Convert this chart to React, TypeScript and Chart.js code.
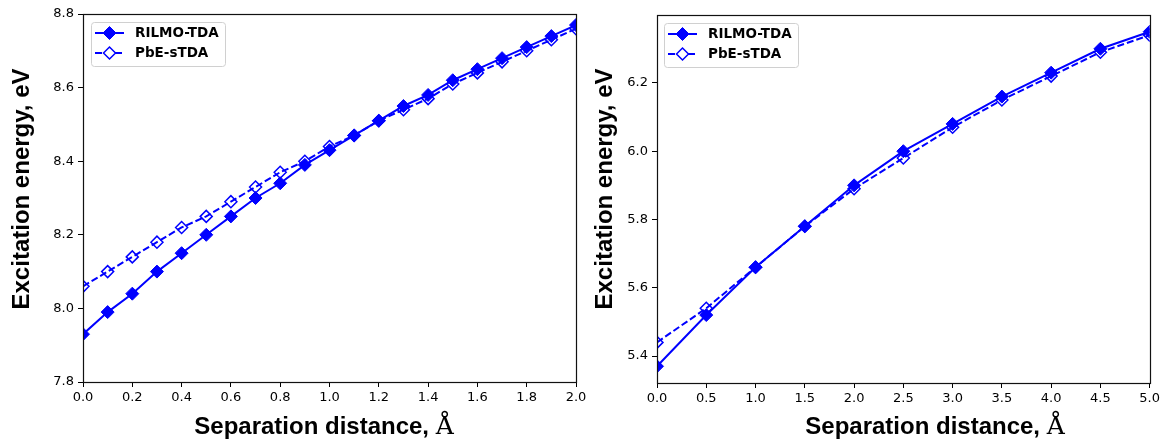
import React, { useEffect, useRef } from 'react';
import { Chart, registerables } from 'chart.js';
Chart.register(...registerables);

const seriesNames = ['RILMO-TDA', 'PbE-sTDA'];
const xTitleText = 'Separation distance, ';
const xTitleUnit = 'Å';
const yTitleText = 'Excitation energy, eV';

const leftDistances = [0.0, 0.1, 0.2, 0.3, 0.4, 0.5, 0.6, 0.7, 0.8, 0.9, 1.0, 1.1, 1.2, 1.3, 1.4, 1.5, 1.6, 1.7, 1.8, 1.9, 2.0];
const leftRilmo = [7.93, 7.99, 8.04, 8.10, 8.15, 8.20, 8.25, 8.30, 8.34, 8.39, 8.43, 8.47, 8.51, 8.55, 8.58, 8.62, 8.65, 8.68, 8.71, 8.74, 8.77];
const leftPbe = [8.06, 8.10, 8.14, 8.18, 8.22, 8.25, 8.29, 8.33, 8.37, 8.40, 8.44, 8.47, 8.51, 8.54, 8.57, 8.61, 8.64, 8.67, 8.70, 8.73, 8.76];
const leftXTicks = [0.0, 0.2, 0.4, 0.6, 0.8, 1.0, 1.2, 1.4, 1.6, 1.8, 2.0];
const leftYTicks = [7.8, 8.0, 8.2, 8.4, 8.6, 8.8];

const rightDistances = [0.0, 0.5, 1.0, 1.5, 2.0, 2.5, 3.0, 3.5, 4.0, 4.5, 5.0];
const rightRilmo = [5.37, 5.52, 5.66, 5.78, 5.90, 6.00, 6.08, 6.16, 6.23, 6.30, 6.35];
const rightPbe = [5.44, 5.54, 5.66, 5.78, 5.89, 5.98, 6.07, 6.15, 6.22, 6.29, 6.34];
const rightXTicks = [0.0, 0.5, 1.0, 1.5, 2.0, 2.5, 3.0, 3.5, 4.0, 4.5, 5.0];
const rightYTicks = [5.4, 5.6, 5.8, 6.0, 6.2];

const BLUE = '#0000ff';

function diamond(ctx: CanvasRenderingContext2D, x: number, y: number, r: number) {
  ctx.beginPath();
  ctx.moveTo(x - r, y);
  ctx.lineTo(x, y - r);
  ctx.lineTo(x + r, y);
  ctx.lineTo(x, y + r);
  ctx.closePath();
}

type PanelProps = {
  left: number;
  width: number;
  xs: number[];
  a: number[];
  b: number[];
  xMin: number;
  xMax: number;
  yMin: number;
  yMax: number;
  xTicks: number[];
  yTicks: number[];
  yAxisWidth: number;
  padTop: number;
  padRight: number;
  xAxisHeight: number;
  legendDx: number;
  legendDy: number;
  yTitleX: number;
  yTitleY: number;
  xTitleCenter: number;
  xTitleBaseline: number;
};

function Panel(p: PanelProps) {
  const ref = useRef<HTMLCanvasElement>(null);
  useEffect(() => {
    const canvas = ref.current!;
    const overlay = {
      id: 'overlay',
      afterDraw(chart: any) {
        const ctx: CanvasRenderingContext2D = chart.ctx;
        const ca = chart.chartArea;
        ctx.save();
        // frame
        ctx.strokeStyle = '#111';
        ctx.lineWidth = 1.2;
        ctx.strokeRect(Math.round(ca.left) + 0.5, Math.round(ca.top) + 0.5, Math.round(ca.right - ca.left), Math.round(ca.bottom - ca.top));
        // legend
        const bx = ca.left + p.legendDx;
        const by = ca.top + p.legendDy;
        const bw = 134;
        const bh = 44;
        ctx.beginPath();
        (ctx as any).roundRect(bx + 0.5, by + 0.5, bw, bh, 3);
        ctx.fillStyle = 'rgba(255,255,255,0.85)';
        ctx.fill();
        ctx.strokeStyle = '#d0d0d0';
        ctx.lineWidth = 1;
        ctx.stroke();
        const rows = [by + 11, by + 31];
        const x0 = bx + 4;
        const x1 = bx + 33;
        const mx = (x0 + x1) / 2;
        ctx.strokeStyle = BLUE;
        ctx.lineWidth = 2;
        ctx.setLineDash([]);
        ctx.beginPath();
        ctx.moveTo(x0, rows[0]);
        ctx.lineTo(x1, rows[0]);
        ctx.stroke();
        diamond(ctx, mx, rows[0], 6.5);
        ctx.fillStyle = BLUE;
        ctx.fill();
        ctx.lineWidth = 1;
        ctx.stroke();
        ctx.lineWidth = 2;
        ctx.setLineDash([7, 3]);
        ctx.beginPath();
        ctx.moveTo(x0, rows[1]);
        ctx.lineTo(x1, rows[1]);
        ctx.stroke();
        ctx.setLineDash([]);
        diamond(ctx, mx, rows[1], 6);
        ctx.fillStyle = '#fff';
        ctx.fill();
        ctx.lineWidth = 1.5;
        ctx.stroke();
        ctx.fillStyle = '#000';
        ctx.font = 'bold 13.5px "DejaVu Sans"';
        ctx.textBaseline = 'middle';
        ctx.textAlign = 'left';
        ctx.fillText(seriesNames[0], bx + 44, rows[0] + 0.5);
        ctx.fillText(seriesNames[1], bx + 44, rows[1] + 0.5);
        // x title
        ctx.textBaseline = 'alphabetic';
        const f1 = 'bold 24px "Liberation Sans", Arial, sans-serif';
        const f2 = '25px "DejaVu Serif", serif';
        ctx.font = f1;
        const w1 = ctx.measureText(xTitleText).width;
        ctx.font = f2;
        const w2 = ctx.measureText(xTitleUnit).width;
        const sx = p.xTitleCenter - (w1 + w2) / 2;
        ctx.font = f1;
        ctx.fillText(xTitleText, sx, p.xTitleBaseline);
        ctx.font = f2;
        ctx.fillText(xTitleUnit, sx + w1, p.xTitleBaseline);
        // y title
        ctx.translate(p.yTitleX, p.yTitleY);
        ctx.rotate(-Math.PI / 2);
        ctx.font = f1;
        ctx.textAlign = 'center';
        ctx.fillText(yTitleText, 0, 0);
        ctx.restore();
      },
    };
    const chart = new Chart(canvas, {
      type: 'line',
      data: {
        datasets: [
          {
            label: seriesNames[0],
            data: p.xs.map((x, i) => ({ x, y: p.a[i] })),
            borderColor: BLUE,
            backgroundColor: BLUE,
            borderWidth: 2,
            pointStyle: 'rectRot',
            pointRadius: 6.5,
            pointBorderWidth: 1,
            pointBackgroundColor: BLUE,
            pointBorderColor: BLUE,
            clip: 0,
            tension: 0,
          },
          {
            label: seriesNames[1],
            data: p.xs.map((x, i) => ({ x, y: p.b[i] })),
            borderColor: BLUE,
            backgroundColor: 'rgba(0,0,0,0)',
            borderWidth: 2,
            borderDash: [7, 3],
            pointStyle: 'rectRot',
            pointRadius: 6,
            pointBorderWidth: 1.5,
            pointBackgroundColor: 'rgba(0,0,0,0)',
            pointBorderColor: BLUE,
            clip: 0,
            tension: 0,
          },
        ],
      },
      options: {
        responsive: false,
        animation: false,
        events: [],
        layout: { padding: { top: p.padTop, right: p.padRight, left: 0, bottom: 0 } },
        plugins: { legend: { display: false }, tooltip: { enabled: false } },
        scales: {
          x: {
            type: 'linear',
            min: p.xMin,
            max: p.xMax,
            afterBuildTicks: (axis: any) => {
              axis.ticks = p.xTicks.map((v) => ({ value: v }));
            },
            afterFit: (axis: any) => {
              axis.height = p.xAxisHeight;
            },
            grid: { display: true, drawOnChartArea: false, drawTicks: true, tickLength: 5, color: '#000', lineWidth: 1 },
            border: { display: false },
            ticks: {
              color: '#000',
              padding: 3,
              maxRotation: 0,
              autoSkip: false,
              font: { family: '"DejaVu Sans"', size: 13 },
              callback: (v: any) => Number(v).toFixed(1),
            },
          },
          y: {
            type: 'linear',
            min: p.yMin,
            max: p.yMax,
            afterBuildTicks: (axis: any) => {
              axis.ticks = p.yTicks.map((v) => ({ value: v }));
            },
            afterFit: (axis: any) => {
              axis.width = p.yAxisWidth;
            },
            grid: { display: true, drawOnChartArea: false, drawTicks: true, tickLength: 5, color: '#000', lineWidth: 1 },
            border: { display: false },
            ticks: {
              color: '#000',
              padding: 4,
              autoSkip: false,
              font: { family: '"DejaVu Sans"', size: 13 },
              callback: (v: any) => Number(v).toFixed(1),
            },
          },
        },
      },
      plugins: [overlay],
    } as any);
    return () => chart.destroy();
  }, []);
  return (
    <canvas
      ref={ref}
      width={p.width}
      height={442}
      style={{ position: 'absolute', left: p.left, top: 0, width: p.width, height: 442 }}
    />
  );
}

export default function App() {
  return (
    <div style={{ position: 'fixed', left: 0, top: 0, width: 1163, height: 442, background: '#fff', overflow: 'hidden' }}>
      <Panel
        left={0}
        width={590}
        xs={leftDistances}
        a={leftRilmo}
        b={leftPbe}
        xMin={0}
        xMax={2}
        yMin={7.8}
        yMax={8.8}
        xTicks={leftXTicks}
        yTicks={leftYTicks}
        yAxisWidth={83}
        padTop={14}
        padRight={14}
        xAxisHeight={60}
        legendDx={8}
        legendDy={8}
        yTitleX={29}
        yTitleY={189}
        xTitleCenter={324}
        xTitleBaseline={434}
      />
      <Panel
        left={590}
        width={573}
        xs={rightDistances}
        a={rightRilmo}
        b={rightPbe}
        xMin={0}
        xMax={5}
        yMin={5.321}
        yMax={6.399}
        xTicks={rightXTicks}
        yTicks={rightYTicks}
        yAxisWidth={67}
        padTop={15}
        padRight={12}
        xAxisHeight={59}
        legendDx={7}
        legendDy={8}
        yTitleX={22}
        yTitleY={189}
        xTitleCenter={345}
        xTitleBaseline={434}
      />
    </div>
  );
}
